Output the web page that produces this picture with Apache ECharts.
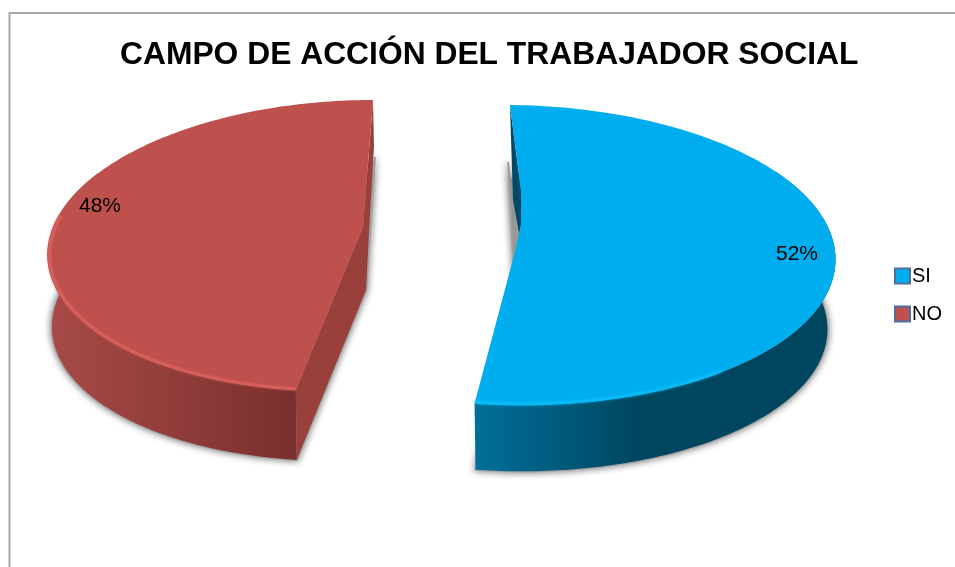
<!DOCTYPE html>
<html>
<head>
<meta charset="utf-8">
<title>Campo de acción</title>
<script src="https://cdn.jsdelivr.net/npm/echarts@6/dist/echarts.min.js"></script>
<style>
  html, body { margin: 0; padding: 0; background: #fff; overflow: hidden; }
  #main { width: 955px; height: 567px; }
</style>
</head>
<body>
<div id="main"></div>
<script>
var titleText = 'CAMPO DE ACCIÓN DEL TRABAJADOR SOCIAL';
var categories = ['SI', 'NO'];
var percents = [52, 48];
var colors = ['#00aeef', '#be504d'];

// the picture is a tilted, exploded pie: each slice gets its own ellipse
var slices = [
  {
    cx: 512.5, cy: 255, rx: 323, ry: 150, skewX: 0.017, skewY: 0.01,
    depth: 70, shrink: 0.975,
    edge: [[521, 190], [521, 225], [516, 248]],
    wallBack: [[513, 200], [519, 233], [516, 248]],
    footTip: [[516, 310], [508, 162]],
    wallArc: [55, 187.2],
    rimArc: [140, 187.2],
    rim: '#0bbcf8',
    side: [[475, '#006f9a'], [640, '#00465f'], [835, '#00465f']],
    inner: '#004a68',
    label: [797, 254]
  },
  {
    cx: 353.5, cy: 245.6, rx: 305.5, ry: 145.6, skewX: -0.134, skewY: 0,
    depth: 72, shrink: 0.985,
    edge: [[363, 227]],
    wallBack: [[374, 147], [370, 213], [366, 290]],
    footTip: [[375, 157], [366, 290]],
    wallArc: [187.2, 300],
    rimArc: [187.2, 282],
    rim: '#d9625d',
    side: [[50, '#a84a47'], [298, '#782f2d']],
    inner: '#993f3c',
    label: [100, 206]
  }
];

var total = percents.reduce(function (a, b) { return a + b; }, 0);

function sliceAngles(i) {
  var before = 0;
  for (var k = 0; k < i; k++) before += percents[k];
  return [before / total * 360, (before + percents[i]) / total * 360];
}

function rimPoint(s, deg, scale, drop) {
  var r = deg * Math.PI / 180;
  var dx = s.rx * scale * Math.sin(r);
  var dy = -s.ry * scale * Math.cos(r);
  return [
    s.cx + dx + s.skewX * dy,
    s.cy + dy + s.skewY * dx + drop
  ];
}

function arcPoints(s, from, to, scale, drop) {
  var pts = [];
  var n = Math.ceil(Math.abs(to - from));
  for (var i = 0; i <= n; i++) {
    pts.push(rimPoint(s, from + (to - from) * i / n, scale, drop));
  }
  return pts;
}

function renderSlice(params, api) {
  var i = params.seriesIndex;
  var s = slices[i];
  var a = sliceAngles(i);
  var arc = arcPoints(s, a[0], a[1], 1, 0);
  var floor = arcPoints(s, a[0], a[1], s.shrink, s.depth);
  var children = [];

  // soft shadow round the foot of the slice
  children.push({
    type: 'polygon',
    shape: { points: floor.concat(s.footTip) },
    style: {
      fill: '#a0a0a0',
      stroke: '#a0a0a0',
      lineWidth: 2,
      shadowBlur: 7,
      shadowColor: 'rgba(100,100,100,0.9)'
    }
  });

  // outer wall
  var wallTop = arcPoints(s, s.wallArc[0], s.wallArc[1], 1, 0);
  var wallBottom = arcPoints(s, s.wallArc[0], s.wallArc[1], s.shrink, s.depth);
  var x0 = s.side[0][0];
  var x1 = s.side[s.side.length - 1][0];
  children.push({
    type: 'polygon',
    shape: { points: wallTop.concat(wallBottom.reverse()) },
    style: {
      fill: {
        type: 'linear', x: x0, y: 0, x2: x1, y2: 0, global: true,
        colorStops: s.side.map(function (c) {
          return { offset: (c[0] - x0) / (x1 - x0), color: c[1] };
        })
      }
    }
  });

  // cut face of the slice
  var cut;
  if (i === 1) {
    var topCorner = arc[arc.length - 1];
    cut = [topCorner].concat(s.edge, [arc[0], floor[0]], s.wallBack.slice().reverse());
  } else {
    cut = [arc[0]].concat(s.wallBack, s.edge.slice().reverse());
  }
  children.push({
    type: 'polygon',
    shape: { points: cut },
    style: { fill: s.inner }
  });

  // top face
  children.push({
    type: 'polygon',
    shape: { points: arc.concat(i === 1 ? s.edge : s.edge.slice().reverse()) },
    style: { fill: api.visual('color') }
  });

  // bright rim on the lower edge
  children.push({
    type: 'polyline',
    shape: { points: arcPoints(s, s.rimArc[0], s.rimArc[1], 0.993, 0) },
    style: {
      fill: 'none',
      stroke: s.rim,
      lineWidth: 3,
      opacity: 0.75,
      shadowBlur: 3,
      shadowColor: s.rim
    }
  });

  children.push({
    type: 'text',
    style: {
      x: s.label[0],
      y: s.label[1],
      text: api.value(0) + '%',
      fill: '#000',
      font: '21px "Liberation Sans", Arial, sans-serif',
      align: 'center',
      verticalAlign: 'middle'
    }
  });

  return { type: 'group', children: children };
}

var myChart = echarts.init(document.getElementById('main'), null, { renderer: 'canvas' });

var option = {
  animation: false,
  backgroundColor: '#fff',
  title: {
    text: titleText,
    left: 120,
    top: 39,
    padding: 0,
    textStyle: {
      fontFamily: '"Liberation Sans", Arial, sans-serif',
      fontWeight: 'bold',
      fontSize: 31.8,
      color: '#000'
    }
  },
  legend: {
    orient: 'vertical',
    left: 894,
    top: 266,
    padding: 0,
    itemWidth: 15,
    itemHeight: 15,
    itemGap: 18,
    icon: 'rect',
    selectedMode: false,
    data: categories,
    itemStyle: { borderColor: '#4f6f9f', borderWidth: 2 },
    textStyle: {
      fontFamily: '"Liberation Sans", Arial, sans-serif',
      fontSize: 20,
      color: '#000',
      padding: [0, 0, 0, -3]
    }
  },
  graphic: [
    {
      type: 'polyline',
      silent: true,
      shape: { points: [[9.5, 567], [9.5, 13], [955, 13]] },
      style: { fill: 'none', stroke: '#a6a6a6', lineWidth: 2 }
    }
  ],
  series: categories.map(function (name, i) {
    return {
      type: 'custom',
      name: name,
      coordinateSystem: 'none',
      renderItem: renderSlice,
      itemStyle: { color: colors[i] },
      silent: true,
      data: [percents[i]]
    };
  })
};

myChart.setOption(option);
</script>
</body>
</html>
